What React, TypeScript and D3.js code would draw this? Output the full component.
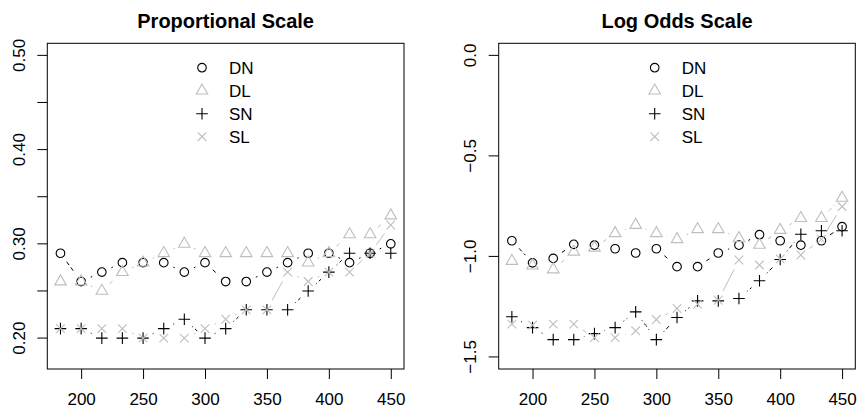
import React, { useRef, useEffect } from "react";
import * as d3 from "d3";

// x positions (shared by both panels)
const xVals = [183.3, 200, 216.7, 233.3, 250, 266.7, 283.3, 300, 316.7, 333.3, 350, 366.7, 383.3, 400, 416.7, 433.3, 450];
const xTicks = [200, 250, 300, 350, 400, 450];

// proportional scale
const propDN = [0.29, 0.26, 0.27, 0.28, 0.28, 0.28, 0.27, 0.28, 0.26, 0.26, 0.27, 0.28, 0.29, 0.29, 0.28, 0.29, 0.30];
const propDL = [0.26, 0.26, 0.25, 0.27, 0.28, 0.29, 0.30, 0.29, 0.29, 0.29, 0.29, 0.29, 0.28, 0.29, 0.31, 0.31, 0.33];
const propSN = [0.21, 0.21, 0.20, 0.20, 0.20, 0.21, 0.22, 0.20, 0.21, 0.23, 0.23, 0.23, 0.25, 0.27, 0.29, 0.29, 0.29];
const propSL = [0.21, 0.21, 0.21, 0.21, 0.20, 0.20, 0.20, 0.21, 0.22, 0.23, 0.23, 0.27, 0.26, 0.27, 0.27, 0.29, 0.32];
const propTicks = [0.2, 0.25, 0.3, 0.35, 0.4, 0.45, 0.5];
const propLabels = [0.2, 0.3, 0.4, 0.5];

// log odds scale
const logDN = [-0.922, -1.032, -1.01, -0.94, -0.944, -0.962, -0.983, -0.962, -1.051, -1.051, -0.983, -0.944, -0.892, -0.922, -0.944, -0.922, -0.852];
const logDL = [-1.023, -1.046, -1.065, -0.977, -0.957, -0.885, -0.844, -0.885, -0.915, -0.865, -0.865, -0.91, -0.943, -0.869, -0.81, -0.81, -0.709];
const logSN = [-1.3, -1.354, -1.414, -1.414, -1.384, -1.354, -1.276, -1.414, -1.304, -1.221, -1.221, -1.209, -1.121, -1.015, -0.89, -0.872, -0.872];
const logSL = [-1.337, -1.342, -1.337, -1.337, -1.404, -1.404, -1.37, -1.314, -1.259, -1.238, -1.218, -1.018, -1.043, -1.012, -0.993, -0.915, -0.752];
const logTicks = [0, -0.5, -1, -1.5];

const seriesNames = ["DN", "DL", "SN", "SL"];
const GRAY = "#bebebe";
const FONT = "Liberation Sans, Arial, Helvetica, sans-serif";

// marker shapes, R style
const symbolPath = (kind: string) => {
  const xc = 4.3;
  if (kind === "circle") return d3.arc()({ innerRadius: 0, outerRadius: xc, startAngle: 0, endAngle: 2 * Math.PI }) as string;
  if (kind === "triangle") {
    const r = 1.555 * xc, h = 1.347 * xc, b = 0.778 * xc;
    return `M0,${-r}L${h},${b}L${-h},${b}Z`;
  }
  if (kind === "plus") {
    const a = 5.8;
    return `M${-a},0H${a}M0,${-a}V${a}`;
  }
  return `M${-xc},${-xc}L${xc},${xc}M${-xc},${xc}L${xc},${-xc}`;
};

const styles = [
  { kind: "circle", color: "#000", dash: "4,3" },
  { kind: "triangle", color: GRAY, dash: "4,3" },
  { kind: "plus", color: "#000", dash: "1,3,4,3" },
  { kind: "cross", color: GRAY, dash: null },
];

const drawPanel = (svg: any, opts: any) => {
  const { left, right, top, bottom, yDomain, series, yTicks, yLabels, fmt, title, labelX, legendX } = opts;
  const x = d3.scaleLinear().domain([172.67, 460.67]).range([left, right]);
  const y = d3.scaleLinear().domain(yDomain).range([bottom, top]);
  const g = svg.append("g");

  // title
  g.append("text")
    .attr("x", (left + right) / 2).attr("y", 28)
    .attr("text-anchor", "middle")
    .attr("font-family", FONT).attr("font-weight", "bold").attr("font-size", 20)
    .text(title);

  // series: points + gapped lines (type = "b")
  const gap = 10.5;
  series.forEach((vals: number[], si: number) => {
    const st = styles[si];
    const pts = vals.map((v, i) => [x(xVals[i]), y(v)]);
    for (let i = 0; i < pts.length - 1; i++) {
      const [x0, y0] = pts[i], [x1, y1] = pts[i + 1];
      const dx = x1 - x0, dy = y1 - y0, d = Math.hypot(dx, dy);
      if (d <= 2 * gap) continue;
      const f = gap / d;
      const seg = g.append("line")
        .attr("x1", x0 + f * dx).attr("y1", y0 + f * dy)
        .attr("x2", x1 - f * dx).attr("y2", y1 - f * dy)
        .attr("stroke", st.color).attr("stroke-width", 1);
      if (st.dash) seg.attr("stroke-dasharray", st.dash);
    }
    g.append("g").selectAll("path")
      .data(pts)
      .enter()
      .append("path")
      .attr("transform", (p: number[]) => `translate(${p[0]},${p[1]})`)
      .attr("d", () => symbolPath(st.kind))
      .attr("fill", "none")
      .attr("stroke", st.color)
      .attr("stroke-width", 1.1);
  });

  // legend
  seriesNames.forEach((name, i) => {
    const ly = 67.7 + i * 23;
    const st = styles[i];
    g.append("path")
      .attr("transform", `translate(${legendX},${ly})`)
      .attr("d", symbolPath(st.kind))
      .attr("fill", "none").attr("stroke", st.color).attr("stroke-width", 1.1);
    g.append("text")
      .attr("x", legendX + 27).attr("y", ly + 6)
      .attr("font-family", FONT).attr("font-size", 17)
      .text(name);
  });

  // box
  g.append("rect")
    .attr("x", left).attr("y", top)
    .attr("width", right - left).attr("height", bottom - top)
    .attr("fill", "none").attr("stroke", "#000").attr("stroke-width", 1);

  // x axis
  const xa = g.append("g").attr("transform", `translate(0,${bottom})`)
    .call(d3.axisBottom(x).tickValues(xTicks).tickSize(10).tickPadding(14).tickFormat(d3.format("d")));
  xa.select(".domain").remove();
  xa.selectAll("text").attr("font-family", FONT).attr("font-size", 17).attr("fill", "#000");

  // y axis ticks
  g.append("g").selectAll("line")
    .data(yTicks)
    .enter()
    .append("line")
    .attr("x1", left).attr("x2", left - 10)
    .attr("y1", (d: number) => y(d)).attr("y2", (d: number) => y(d))
    .attr("stroke", "#000");
  g.append("g").selectAll("text")
    .data(yLabels)
    .enter()
    .append("text")
    .attr("transform", (d: number) => `translate(${labelX},${y(d)}) rotate(-90)`)
    .attr("text-anchor", "middle")
    .attr("font-family", FONT).attr("font-size", 17)
    .text((d: number) => fmt(d));
};

const Chart = () => {
  const ref = useRef(null);

  useEffect(() => {
    if (!ref.current) return;
    d3.select(ref.current).selectAll("*").remove();
    const svg = d3.select(ref.current)
      .append("svg")
      .attr("width", 857).attr("height", 409)
      .style("position", "absolute").style("left", "0px").style("top", "0px")
      .style("background", "#fff");

    drawPanel(svg, {
      left: 47.3, right: 404, top: 43.3, bottom: 369,
      yDomain: [0.1672, 0.5128],
      series: [propDN, propDL, propSN, propSL],
      yTicks: propTicks, yLabels: propLabels,
      fmt: d3.format(".2f"),
      title: "Proportional Scale", labelX: 25, legendX: 202,
    });
    drawPanel(svg, {
      left: 498.7, right: 855.3, top: 43.3, bottom: 369,
      yDomain: [-1.56, 0.06],
      series: [logDN, logDL, logSN, logSL],
      yTicks: logTicks, yLabels: logTicks,
      fmt: (d: number) => d3.format(".1f")(d).replace("-", "\u2212"),
      title: "Log Odds Scale", labelX: 475.5, legendX: 654.7,
    });
  }, []);

  return <div ref={ref}></div>;
};

export default function App() {
  return <Chart />;
}
